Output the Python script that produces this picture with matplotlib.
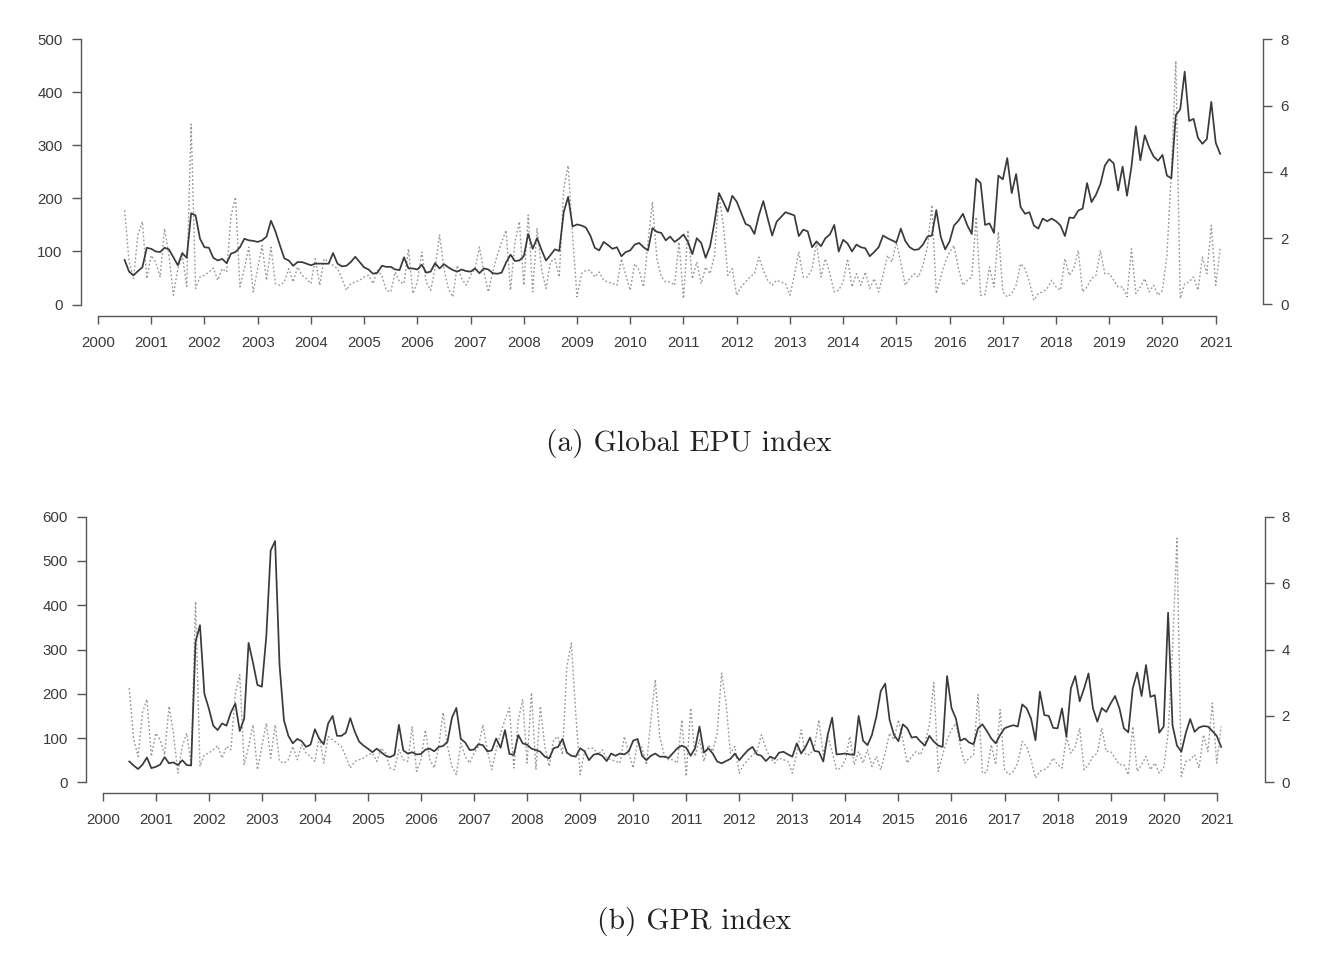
import numpy as np
import pandas as pd
import matplotlib
matplotlib.use("Agg")
import matplotlib.pyplot as plt

# --- data (monthly, Jul 2000 - Feb 2021) ---
months = pd.date_range("2000-07-01", periods=248, freq="MS")
t = months.year + (months.month - 1) / 12.0

# Global EPU index (left axis, top panel)
epu = [
    84, 62, 55, 63, 70, 107, 105, 100, 99, 107,
    104, 89, 74, 97, 88, 172, 168, 124, 108, 107,
    88, 83, 86, 78, 96, 99, 108, 124, 121, 120,
    118, 121, 128, 158, 138, 112, 87, 83, 73, 80,
    80, 77, 74, 77, 77, 77, 77, 97, 77, 72,
    73, 80, 90, 80, 70, 66, 58, 60, 73, 71,
    71, 66, 65, 89, 68, 68, 66, 75, 60, 62,
    78, 68, 76, 70, 65, 62, 66, 63, 62, 68,
    59, 68, 66, 59, 58, 60, 79, 94, 82, 83,
    91, 133, 105, 125, 103, 83, 93, 104, 101, 174,
    203, 147, 151, 149, 145, 130, 107, 102, 118, 112,
    105, 108, 91, 99, 102, 113, 116, 108, 102, 144,
    137, 135, 121, 128, 118, 124, 132, 118, 95, 125,
    116, 88, 110, 155, 210, 193, 175, 205, 194, 173,
    152, 148, 133, 168, 195, 162, 130, 156, 165, 174,
    171, 168, 129, 141, 138, 108, 119, 110, 125, 132,
    150, 100, 122, 115, 100, 113, 108, 106, 91, 99,
    108, 130, 125, 121, 117, 143, 120, 108, 103, 104,
    113, 128, 130, 178, 128, 104, 119, 149, 158, 171,
    149, 133, 237, 229, 150, 153, 135, 243, 236, 276,
    210, 246, 184, 171, 174, 149, 143, 162, 157, 162,
    157, 149, 129, 164, 163, 177, 181, 229, 193, 207,
    227, 262, 274, 266, 215, 260, 205, 260, 336, 272,
    319, 296, 279, 271, 282, 243, 238, 357, 368, 439,
    346, 350, 314, 303, 312, 382, 305, 284,
]

# GPR index (left axis, bottom panel)
gpr = [
    47, 38, 30, 40, 56, 32, 35, 40, 57, 43,
    45, 39, 50, 39, 38, 317, 355, 200, 167, 128,
    118, 133, 128, 158, 178, 116, 144, 315, 270, 220,
    216, 329, 524, 545, 265, 140, 105, 88, 98, 93,
    80, 85, 120, 98, 86, 133, 150, 105, 105, 112,
    145, 115, 92, 83, 76, 68, 76, 68, 60, 57,
    62, 130, 72, 65, 68, 63, 64, 74, 76, 70,
    80, 82, 92, 146, 168, 98, 90, 73, 74, 86,
    84, 70, 72, 99, 78, 118, 64, 62, 107, 88,
    85, 76, 73, 69, 58, 54, 77, 80, 98, 67,
    60, 58, 77, 70, 50, 62, 65, 60, 48, 65,
    60, 65, 63, 70, 94, 98, 60, 50, 60, 65,
    58, 58, 55, 66, 77, 83, 78, 60, 77, 126,
    67, 77, 65, 47, 43, 48, 53, 65, 50, 62,
    73, 80, 63, 60, 48, 58, 53, 67, 69, 63,
    58, 88, 65, 80, 101, 71, 69, 47, 107, 146,
    63, 64, 65, 63, 62, 150, 94, 84, 107, 148,
    206, 223, 141, 107, 93, 131, 122, 101, 103, 92,
    83, 105, 92, 83, 80, 240, 168, 144, 94, 99,
    90, 86, 122, 131, 116, 99, 88, 107, 122, 126,
    129, 126, 176, 167, 144, 95, 205, 152, 150, 123,
    122, 167, 103, 212, 240, 183, 212, 246, 167, 137,
    168, 159, 178, 195, 167, 122, 113, 212, 248, 195,
    265, 193, 197, 112, 126, 383, 129, 83, 69, 111,
    143, 114, 124, 127, 126, 116, 105, 80,
]

# volatility series (right axis, dotted, same in both panels)
vol = [
    2.84, 1.30, 0.78, 2.10, 2.50, 0.78, 1.48, 1.28, 0.83, 2.29,
    1.48, 0.28, 1.08, 1.48, 0.55, 5.44, 0.48, 0.83, 0.88, 0.98,
    1.10, 0.73, 1.08, 0.98, 2.69, 3.24, 0.53, 1.08, 1.73, 0.38,
    1.08, 1.78, 0.73, 1.73, 0.63, 0.58, 0.68, 1.08, 0.68, 1.13,
    0.88, 0.78, 0.63, 1.38, 0.58, 1.38, 1.28, 1.18, 1.08, 0.78,
    0.43, 0.63, 0.68, 0.73, 0.83, 0.88, 0.63, 1.03, 0.88, 0.43,
    0.38, 0.98, 0.68, 0.63, 1.68, 0.33, 0.68, 1.58, 0.68, 0.43,
    1.08, 2.10, 1.08, 0.48, 0.23, 1.18, 0.78, 0.58, 0.88, 1.08,
    1.73, 0.98, 0.38, 0.98, 1.48, 1.88, 2.24, 0.43, 1.88, 2.50,
    0.58, 2.70, 0.38, 2.29, 1.08, 0.48, 1.28, 1.38, 0.83, 3.49,
    4.19, 2.09, 0.23, 0.93, 1.03, 1.03, 0.83, 0.98, 0.73, 0.68,
    0.63, 0.58, 1.38, 0.88, 0.43, 1.23, 1.03, 0.53, 1.88, 3.09,
    1.38, 0.83, 0.68, 0.68, 0.58, 1.88, 0.18, 2.24, 0.78, 1.28,
    0.63, 1.13, 0.93, 1.48, 3.29, 2.39, 0.88, 1.08, 0.28, 0.53,
    0.68, 0.83, 0.93, 1.43, 1.03, 0.73, 0.58, 0.73, 0.68, 0.63,
    0.28, 0.88, 1.58, 0.83, 0.83, 1.08, 1.88, 0.83, 1.38, 0.93,
    0.38, 0.43, 0.68, 1.38, 0.53, 0.93, 0.58, 0.98, 0.48, 0.78,
    0.38, 0.88, 1.48, 1.28, 1.88, 1.28, 0.58, 0.78, 0.93, 0.83,
    1.18, 1.73, 3.00, 0.33, 0.83, 1.28, 1.58, 1.78, 1.08, 0.58,
    0.73, 0.83, 2.64, 0.28, 0.30, 1.13, 0.53, 2.19, 0.38, 0.23,
    0.33, 0.58, 1.23, 1.08, 0.68, 0.13, 0.33, 0.38, 0.48, 0.73,
    0.53, 0.43, 1.38, 0.88, 1.08, 1.63, 0.38, 0.53, 0.78, 0.88,
    1.63, 0.93, 0.93, 0.73, 0.53, 0.53, 0.23, 1.68, 0.33, 0.53,
    0.78, 0.38, 0.58, 0.28, 0.43, 1.48, 3.99, 7.35, 0.18, 0.63,
    0.68, 0.83, 0.43, 1.43, 0.93, 2.39, 0.58, 1.68,
]

year_ticks = list(range(2000, 2022))
captions = ["(a) Global EPU index", "(b) GPR index"]

# --- style ---
plt.rcParams["font.family"] = ["Liberation Sans", "DejaVu Sans"]
AXIS_COL = "#555555"
TEXT_COL = "#3a3a3a"
W, H = 1338, 960

fig = plt.figure(figsize=(W / 100, H / 100), dpi=100)


def panel(rect_px, xlim, ylim, yticks, ylim2, series, cap, cap_x, cap_y):
    # rect_px = (left, top, right, bottom) in pixels
    l, tp, r, b = rect_px
    ax = fig.add_axes([l / W, 1 - b / H, (r - l) / W, (b - tp) / H])
    ax2 = ax.twinx()
    ax.set_xlim(*xlim)
    ax.set_ylim(*ylim)
    ax2.set_ylim(*ylim2)

    ax2.plot(t, vol, color="#999999", lw=1.0, linestyle=(0, (1.3, 1.6)))
    ax.plot(t, series, color="#3a3a3a", lw=1.25)
    ax.set_zorder(ax2.get_zorder() + 1)
    ax.patch.set_visible(False)

    for a in (ax, ax2):
        a.spines["top"].set_visible(False)
        for s in a.spines.values():
            s.set_color(AXIS_COL)
            s.set_linewidth(1.0)
    ax.spines["right"].set_visible(False)
    ax2.spines["left"].set_visible(False)
    ax2.spines["bottom"].set_visible(False)

    ax.set_xticks(year_ticks)
    ax.set_xticklabels([str(y) for y in year_ticks])
    ax.spines["bottom"].set_bounds(year_ticks[0], year_ticks[-1])
    ax.set_yticks(yticks)
    ax.spines["left"].set_bounds(yticks[0], yticks[-1])
    ax2.set_yticks([0, 2, 4, 6, 8])
    ax2.spines["right"].set_bounds(0, 8)

    ax.tick_params(axis="x", direction="out", length=6, width=1.0,
                   color=AXIS_COL, labelcolor=TEXT_COL, labelsize=10.8, pad=8.5)
    ax.tick_params(axis="y", direction="out", length=6.5, width=1.0,
                   color=AXIS_COL, labelcolor=TEXT_COL, labelsize=10.8, pad=6.5)
    ax2.tick_params(axis="y", direction="out", length=6.5, width=1.0,
                    color=AXIS_COL, labelcolor=TEXT_COL, labelsize=10.8, pad=5.5)

    fig.text(cap_x / W, 1 - cap_y / H, cap, ha="center", va="center",
             family="cmr10", fontsize=21.3, color="#222222")
    return ax


# top panel: Global EPU
panel((80.7, 39.3, 1263.3, 315.7), (1999.675, 2021.894), (-21.1, 500),
      [0, 100, 200, 300, 400, 500], (-0.338, 8), epu, captions[0], 689, 444)

# bottom panel: GPR
panel((86, 516.7, 1265, 793.3), (1999.685, 2021.910), (-24.8, 600),
      [0, 100, 200, 300, 400, 500, 600], (-0.331, 8), gpr, captions[1], 694, 922)

fig.savefig("out.png", dpi=100, facecolor="white")
